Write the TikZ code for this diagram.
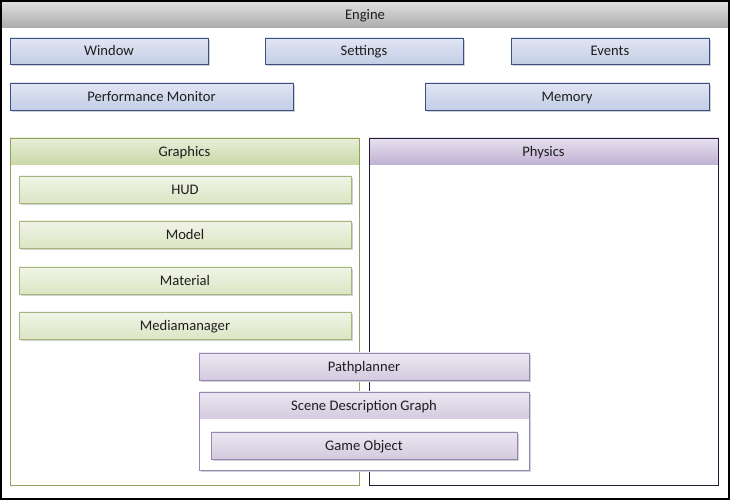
\documentclass[tikz,border=0pt]{standalone}
\usepackage{fontspec}
\setmainfont{Carlito}
\usetikzlibrary{shadows}
\definecolor{bluedraw}{HTML}{3B4E87}
\definecolor{bluetop}{HTML}{E1E6F3}
\definecolor{bluebot}{HTML}{C3CDE6}
\definecolor{greendraw}{HTML}{8FA35A}
\definecolor{greentop}{HTML}{F1F4E8}
\definecolor{greenbot}{HTML}{DCE5C4}
\definecolor{greenhtop}{HTML}{E8EEDA}
\definecolor{greenhbot}{HTML}{CAD7A6}
\definecolor{purpdraw}{HTML}{9785B2}
\definecolor{purptop}{HTML}{ECE8F2}
\definecolor{purpbot}{HTML}{D3CADF}
\definecolor{purphtop}{HTML}{E7E1EE}
\definecolor{purphbot}{HTML}{BFB1D4}
\definecolor{physdraw}{HTML}{1F1F3A}
\definecolor{txt}{HTML}{1E1E1E}
\tikzset{
  base/.style={inner sep=0pt, outer sep=0pt, text=txt, font=\fontsize{14.6}{16}\selectfont, text height=9.6pt, text depth=0pt, line width=0.9pt},
  sh/.style={drop shadow={shadow xshift=2pt, shadow yshift=-2pt, fill=black!18, opacity=1}},
  bluebox/.style={base, sh, draw=bluedraw, top color=bluetop, bottom color=bluebot},
  greenbox/.style={base, sh, draw=greendraw!80, top color=greentop, bottom color=greenbot},
  purpbox/.style={base, sh, draw=purpdraw, top color=purptop, bottom color=purpbot},
  cont/.style={base, fill=white},
  ghead/.style={base, top color=greenhtop, bottom color=greenhbot},
  phead/.style={base, top color=purphtop, bottom color=purphbot},
}
\begin{document}
\begin{tikzpicture}[x=1pt, y=-1pt]
\useasboundingbox (0,0) rectangle (731,502);
\fill[white] (0,0) rectangle (731,502);
% Engine frame
\node[base, top color=black!12, bottom color=black!33, minimum width=728pt, minimum height=27pt] (enginehead) at (365,14.5) {Engine};
\node[base, draw=black, line width=1.4pt, minimum width=728pt, minimum height=498pt] (engine) at (365,250) {};
% top row
\node[bluebox, minimum width=198pt, minimum height=26pt] (window) at (109,51) {Window};
\node[bluebox, minimum width=198pt, minimum height=26pt] (settings) at (364,51) {Settings};
\node[bluebox, minimum width=198pt, minimum height=26pt] (events) at (610,51) {Events};
\node[bluebox, minimum width=283pt, minimum height=27pt] (perf) at (151.5,96.5) {Performance Monitor};
\node[bluebox, minimum width=284pt, minimum height=27pt] (memory) at (567,96.5) {Memory};
% Graphics
\node[cont, minimum width=349pt, minimum height=347pt] (graphics) at (184.5,311.5) {};
\node[ghead, minimum width=349pt, minimum height=27pt] (graphicshead) at (184.5,151.5) {Graphics};
\draw[line width=0.9pt, draw=greendraw] (graphics.north west) rectangle (graphics.south east);
% Physics
\node[cont, minimum width=349pt, minimum height=347pt] (physics) at (543.5,311.5) {};
\node[phead, minimum width=349pt, minimum height=27pt] (physicshead) at (543.5,151.5) {Physics};
\draw[line width=0.9pt, draw=physdraw] (physics.north west) rectangle (physics.south east);
% Graphics items
\node[greenbox, minimum width=332pt, minimum height=27pt] (hud) at (185,189.5) {HUD};
\node[greenbox, minimum width=332pt, minimum height=27pt] (model) at (185,234.5) {Model};
\node[greenbox, minimum width=332pt, minimum height=27pt] (material) at (185,280.5) {Material};
\node[greenbox, minimum width=332pt, minimum height=27pt] (media) at (185,325.5) {Mediamanager};
% Pathplanner and SDG
\node[purpbox, minimum width=330pt, minimum height=27pt] (path) at (364,366.5) {Pathplanner};
\node[base, sh, fill=white, minimum width=330pt, minimum height=78pt] (sdg) at (364,431) {};
\node[phead, top color=purptop, bottom color=purpbot, minimum width=330pt, minimum height=27pt] (sdghead) at (364,405.5) {Scene Description Graph};
\draw[line width=0.9pt, draw=purpdraw] (sdg.north west) rectangle (sdg.south east);
\node[purpbox, minimum width=306pt, minimum height=27pt] (gameobj) at (364,445.5) {Game Object};
\end{tikzpicture}
\end{document}
